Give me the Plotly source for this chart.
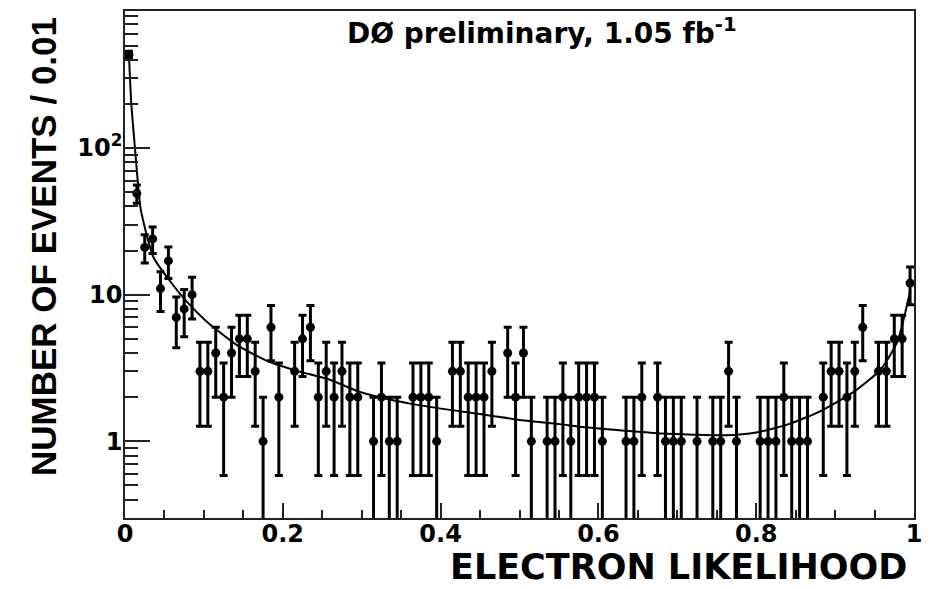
import numpy as np
import plotly.graph_objects as go

# Histogram: events per 0.01 bin of electron likelihood (bin centres 0.005 ... 0.995)
bin_width = 0.01
counts = [
    436, 49, 21, 24, 11, 17, 7, 8, 10, 3,
    3, 4, 2, 4, 5, 5, 3, 1, 6, 2,
    0, 3, 5, 6, 2, 3, 2, 3, 2, 2,
    0, 1, 2, 1, 1, 0, 2, 2, 2, 1,
    0, 3, 3, 2, 2, 2, 3, 0, 4, 2,
    4, 1, 0, 1, 1, 2, 1, 2, 2, 2,
    1, 0, 0, 1, 1, 2, 0, 2, 1, 1,
    1, 0, 1, 0, 1, 1, 3, 1, 0, 0,
    1, 1, 1, 2, 1, 1, 1, 0, 2, 3,
    3, 2, 3, 6, 0, 3, 3, 5, 5, 12,
]

# Fitted shape overlaid on the histogram
fit_x = [0.005, 0.008, 0.0126, 0.017, 0.02, 0.036, 0.057, 0.078, 0.103, 0.14,
         0.182, 0.22, 0.258, 0.30, 0.363, 0.447, 0.509, 0.551, 0.58, 0.635,
         0.68, 0.72, 0.761, 0.80, 0.841, 0.883, 0.925, 0.958, 0.979, 0.995]
fit_y = [430, 200, 100, 53, 38, 18, 12.4, 9.0, 6.6, 4.6,
         3.5, 3.0, 2.65, 2.15, 1.8, 1.54, 1.38, 1.31, 1.25, 1.18,
         1.13, 1.11, 1.10, 1.15, 1.31, 1.62, 2.2, 3.1, 4.8, 10.5]

y_tick_vals = [1, 10, 100]
y_tick_text = ["<b>1</b>", "<b>10</b>", "<b>10<sup>2</sup></b>"]
x_tick_vals = [0, 0.2, 0.4, 0.6, 0.8, 1]
x_tick_text = ["<b>0</b>", "<b>0.2</b>", "<b>0.4</b>", "<b>0.6</b>", "<b>0.8</b>", "<b>1</b>"]

counts = np.array(counts, dtype=float)
centres = bin_width * (np.arange(len(counts)) + 0.5)
filled = counts > 0
xs = centres[filled]
ns = counts[filled]
err_up = np.sqrt(ns)
# lower edge clipped just above zero so the log axis can draw it off the bottom
err_dn = np.minimum(np.sqrt(ns), ns - 0.05)

WIDE = "DejaVu Sans, Verdana, sans-serif"
NARROW = "Liberation Sans, Arial, sans-serif"
AXIS = "#222"

fig = go.Figure()

fig.add_trace(go.Scatter(
    x=fit_x, y=fit_y, mode="lines",
    line=dict(color="black", width=2, shape="spline", smoothing=0.6),
    hoverinfo="skip", showlegend=False,
))

fig.add_trace(go.Scatter(
    x=xs, y=ns, mode="markers",
    marker=dict(color="black", size=9, symbol="circle"),
    error_y=dict(type="data", symmetric=False, array=err_up, arrayminus=err_dn,
                 color="black", thickness=3, width=4),
    showlegend=False,
))

minor_y = [m * 10.0 ** e for e in range(-1, 3) for m in range(2, 10)]

fig.update_layout(
    width=931, height=589,
    margin=dict(l=125, r=11, t=9, b=71),
    paper_bgcolor="white", plot_bgcolor="white",
    font=dict(family=WIDE, color="black"),
    xaxis=dict(
        range=[0, 1], showgrid=False, zeroline=False,
        showline=True, linecolor=AXIS, linewidth=1.5, mirror=True,
        ticks="inside", ticklen=15, tickwidth=1.5, tickcolor=AXIS,
        tickmode="array", tickvals=x_tick_vals, ticktext=x_tick_text,
        tickfont=dict(size=24, family=WIDE), ticklabelstandoff=-7,
        minor=dict(dtick=0.05, ticks="inside", ticklen=8, tickwidth=1.5,
                   tickcolor=AXIS, showgrid=False),
    ),
    yaxis=dict(
        type="log", range=[np.log10(0.3), np.log10(860)],
        showgrid=False, zeroline=False,
        showline=True, linecolor=AXIS, linewidth=1.5, mirror=True,
        ticks="inside", ticklen=25, tickwidth=1.5, tickcolor=AXIS,
        tickmode="array", tickvals=y_tick_vals, ticktext=y_tick_text,
        tickfont=dict(size=24, family=WIDE), ticklabelstandoff=-4,
        minor=dict(tickmode="array", tickvals=minor_y, ticks="inside",
                   ticklen=13, tickwidth=1.5, tickcolor=AXIS, showgrid=False),
    ),
    annotations=[
        dict(text="<b>DØ preliminary, 1.05 fb<sup>-1</sup></b>",
             xref="paper", yref="paper", x=0.528, y=0.959,
             xanchor="center", yanchor="middle", showarrow=False,
             font=dict(size=28, family=WIDE)),
        dict(text="<b>ELECTRON LIKELIHOOD</b>",
             xref="paper", yref="paper", x=0.9937, y=(518 - 589) / 509,
             xanchor="right", yanchor="bottom", showarrow=False,
             font=dict(size=35, family=WIDE)),
        dict(text="<b>NUMBER OF EVENTS / 0.01</b>",
             xref="paper", yref="paper", x=-0.103, y=0.536,
             xanchor="center", yanchor="middle", showarrow=False,
             textangle=-90, font=dict(size=35, family=NARROW)),
    ],
)

fig.write_html("out.html")
